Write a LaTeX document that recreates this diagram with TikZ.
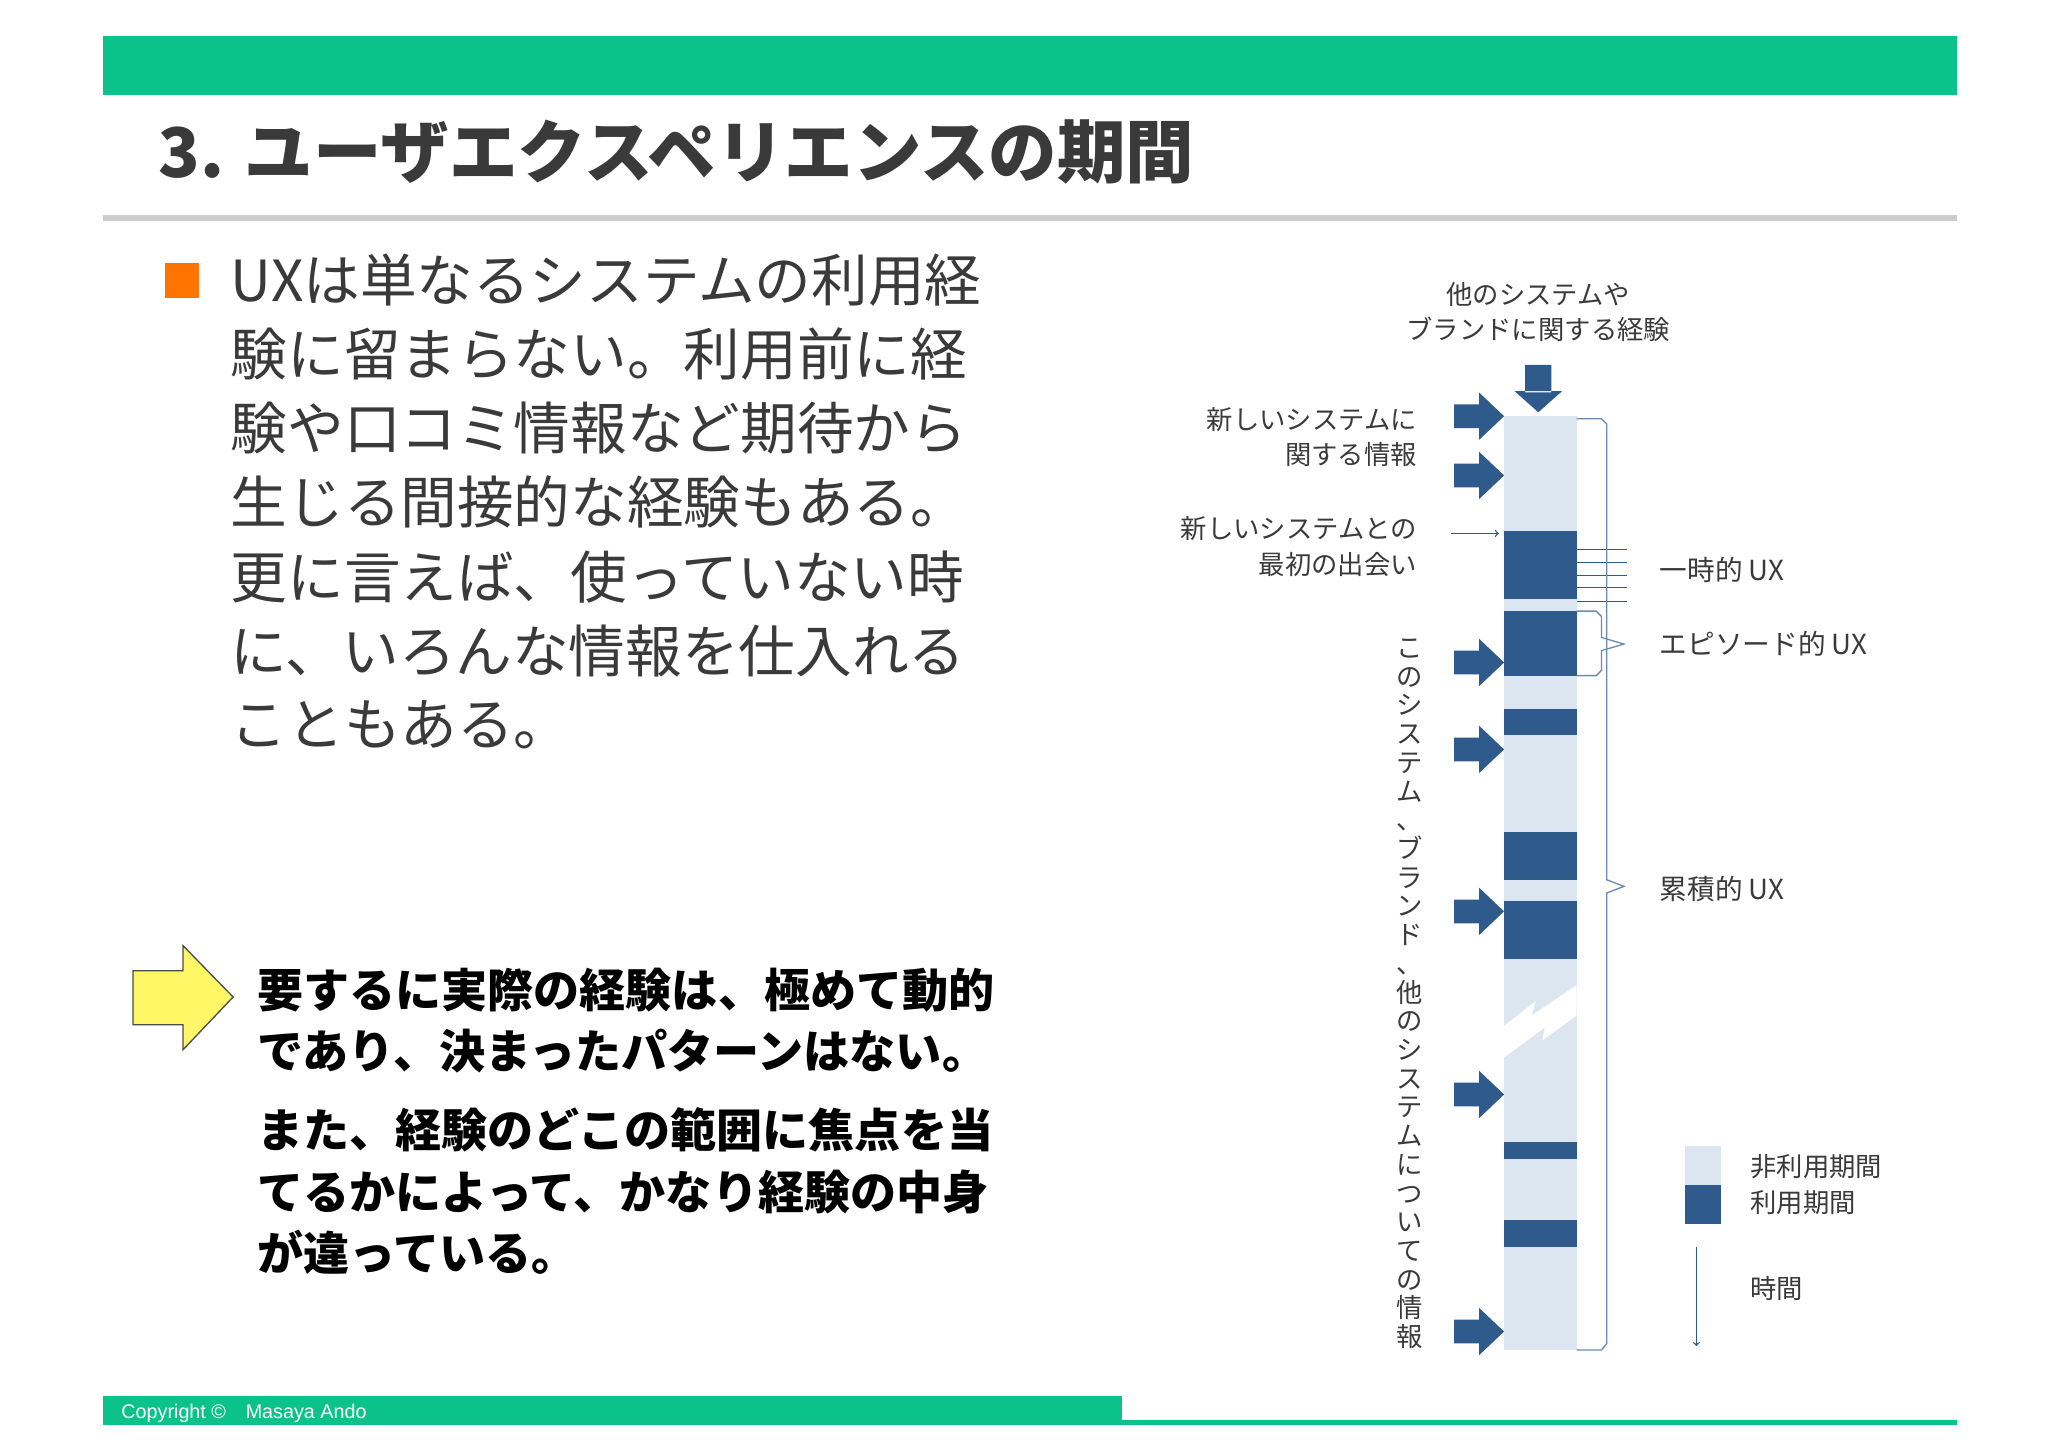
\documentclass[tikz,border=0pt]{standalone}
\usepackage{fontspec}
\setmainfont{Noto Sans CJK JP}
\newfontfamily\cjkb{Noto Sans CJK JP}[BoldFont={* Bold}]
\newfontfamily\lib{Liberation Sans}
\definecolor{grn}{HTML}{0BC28A}
\definecolor{dkb}{HTML}{2F5A8C}
\definecolor{ltb}{HTML}{DCE6F1}
\definecolor{txt}{HTML}{3A3A3A}
\begin{document}
\begin{tikzpicture}[x=1pt,y=-1pt,
  lbl/.style={inner sep=0pt,font=\fontsize{20}{27}\selectfont,text=txt},
  body/.style={inner sep=0pt,anchor=west,font=\fontsize{43}{56}\selectfont,text=txt},
  bbody/.style={inner sep=0pt,anchor=west,font=\fontsize{35}{46}\selectfont\bfseries,text=black},
  darr/.style={fill=dkb}]
\useasboundingbox (0,0) rectangle (1555,1100);
\fill[white] (0,0) rectangle (1555,1100);
% header
\fill[grn] (78,27) rectangle (1486,72);
\node[inner sep=0pt,anchor=west,font=\fontsize{52}{60}\selectfont\bfseries,text=txt] (title) at (120,115) {3. ユーザエクスペリエンスの期間};
\fill[black!20] (78,163) rectangle (1486,168);
% footer
\fill[grn] (78,1060) rectangle (852,1082);
\fill[grn] (852,1078) rectangle (1486,1082);
\node[inner sep=0pt,anchor=west,font=\lib\fontsize{15}{18}\selectfont,text=white] (copy) at (92,1073) {Copyright ©\quad Masaya Ando};
% left body
\fill[orange!90!red] (125,200) rectangle (151,226);
\node[body] (l1) at (175,213) {UXは単なるシステムの利用経};
\node[body] (l2) at (175,269) {験に留まらない。利用前に経};
\node[body] (l3) at (175,325) {験や口コミ情報など期待から};
\node[body] (l4) at (175,381) {生じる間接的な経験もある。};
\node[body] (l5) at (175,438) {更に言えば、使っていない時};
\node[body] (l6) at (175,494) {に、いろんな情報を仕入れる};
\node[body] (l7) at (175,550) {こともある。};
% yellow arrow
\draw[fill=yellow!60,draw=black!70,line width=1pt] (101,737) -- (139,737) -- (139,718) -- (177,757) -- (139,797) -- (139,778) -- (101,778) -- cycle;
\node[bbody] (b1) at (195,752) {要するに実際の経験は、極めて動的};
\node[bbody] (b2) at (195,798) {であり、決まったパターンはない。};
\node[bbody] (b3) at (195,858) {また、経験のどこの範囲に焦点を当};
\node[bbody] (b4) at (195,905) {てるかによって、かなり経験の中身};
\node[bbody] (b5) at (195,951) {が違っている。};
% diagram bar
\fill[ltb] (1142,316) rectangle (1197,1025);
\foreach \a/\b in {403/455,464/513,538/558,632/668,684/728,867/880,926/947}
  \fill[dkb] (1142,\a) rectangle (1197,\b);
\fill[white] (1142,779) -- (1166,760) -- (1163,771) -- (1197,748) -- (1197,771) -- (1171,790) -- (1173,780) -- (1142,803) -- cycle;
% down arrow
\fill[darr] (1158,277) rectangle (1178,298) (1150,297) -- (1186,297) -- (1168,313) -- cycle;
\node[lbl,align=center] (top) at (1168,237) {他のシステムや\\ブランドに関する経験};
% right arrows
\foreach \y in {316,361,503,569,692,831,1011}
  \fill[darr] (1104,\y-9) -- (1123,\y-9) -- (1123,\y-18) -- (1142,\y) -- (1123,\y+18) -- (1123,\y+9) -- (1104,\y+9) -- cycle;
\coordinate (ts) at (1102,405);
\coordinate (te) at (1138,405);
\draw[dkb,line width=1pt,->] (ts) -- (te);
\node[lbl,align=right,anchor=east] (n1) at (1076,332) {新しいシステムに\\関する情報};
\node[lbl,align=right,anchor=east] (n2) at (1076,415) {新しいシステムとの\\最初の出会い};
% vertical text
\node[lbl,align=center,anchor=north,font=\fontsize{20}{21.8}\selectfont] (vt) at (1070,485) {こ\\の\\シ\\ス\\テ\\ム\\、\\ブ\\ラ\\ン\\ド\\、\\他\\の\\シ\\ス\\テ\\ム\\に\\つ\\い\\て\\の\\情\\報};
% ticks
\foreach \y in {417,427,437,446,457}
  \draw[dkb,line width=0.8pt] (1197,\y) -- (1235,\y);
% brackets
\draw[dkb!70,line width=1pt] (1197,318) -- (1216,318) -- (1220,322) -- (1220,668) -- (1233,673) -- (1220,678) -- (1220,1020) -- (1216,1025) -- (1197,1025);
\draw[dkb!70,line width=1pt] (1197,464) -- (1212,464) -- (1216,468) -- (1216,484) -- (1233,489) -- (1216,494) -- (1216,509) -- (1212,513) -- (1197,513);
\node[lbl,anchor=west,font=\fontsize{21}{27}\selectfont] (u1) at (1260,433) {一時的 UX};
\node[lbl,anchor=west,font=\fontsize{21}{27}\selectfont] (u2) at (1260,489) {エピソード的 UX};
\node[lbl,anchor=west,font=\fontsize{21}{27}\selectfont] (u3) at (1260,675) {累積的 UX};
% legend
\fill[ltb] (1279,870) rectangle (1307,900);
\fill[dkb] (1279,900) rectangle (1307,929);
\node[lbl,anchor=west] (g1) at (1329,886) {非利用期間};
\node[lbl,anchor=west] (g2) at (1329,913) {利用期間};
\coordinate (as) at (1288,947);
\coordinate (ae) at (1288,1022);
\draw[dkb,line width=1pt,->] (as) -- (ae);
\node[lbl,anchor=west] (g3) at (1329,978) {時間};
\end{tikzpicture}
\end{document}
